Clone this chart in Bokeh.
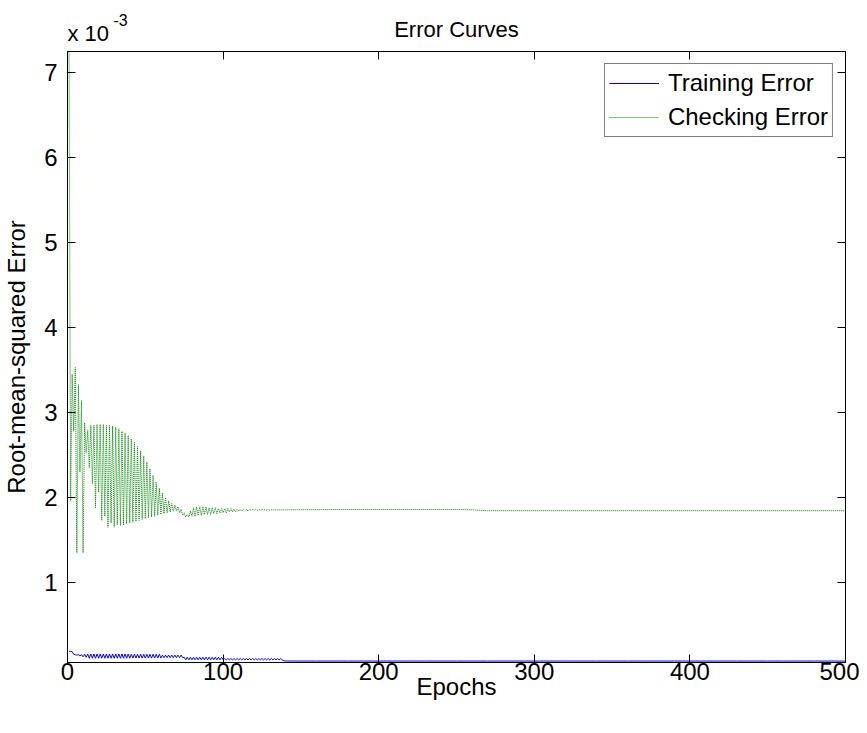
from bokeh.plotting import figure
from bokeh.models import Range1d, LinearAxis, FixedTicker, Legend, LegendItem, Title
from bokeh.embed import file_html
from bokeh.resources import INLINE

# ---------------- data (values in units of 1e-3) ----------------
epochs_dense = list(range(1, 141))
epochs_tail = list(range(150, 501, 10))

checking_dense = [
    7.25, 1.96, 3.45, 2.78, 3.53, 1.35, 3.33, 2.30, 3.14, 1.35,
    2.88, 2.53, 2.79, 2.35, 2.85, 2.16, 2.85, 1.88, 2.86, 2.06,
    2.86, 1.73, 2.86, 1.78, 2.85, 1.65, 2.85, 1.70, 2.84, 1.65,
    2.83, 1.68, 2.81, 1.67, 2.78, 1.68, 2.76, 1.69, 2.73, 1.70,
    2.69, 1.71, 2.65, 1.72, 2.60, 1.73, 2.55, 1.74, 2.49, 1.75,
    2.42, 1.76, 2.34, 1.77, 2.26, 1.78, 2.18, 1.79, 2.11, 1.80,
    2.05, 1.81, 2.00, 1.82, 1.96, 1.83, 1.93, 1.84, 1.91, 1.84,
    1.89, 1.82, 1.86, 1.79, 1.82, 1.77, 1.80, 1.77, 1.84, 1.78,
    1.88, 1.78, 1.89, 1.79, 1.89, 1.79, 1.89, 1.80, 1.89, 1.80,
    1.88, 1.80, 1.88, 1.81, 1.88, 1.81, 1.87, 1.82, 1.87, 1.82,
    1.87, 1.82, 1.87, 1.83, 1.87, 1.83, 1.86, 1.83, 1.86, 1.84,
    1.86, 1.84, 1.86, 1.84, 1.86, 1.84, 1.86, 1.85, 1.86, 1.85,
    1.86, 1.85, 1.86, 1.85, 1.86, 1.85, 1.86, 1.85, 1.86, 1.85,
    1.855, 1.855, 1.855, 1.855, 1.855, 1.855, 1.855, 1.855, 1.855, 1.855,
]
checking_tail = [
    1.856, 1.857, 1.858, 1.859, 1.860, 1.860, 1.860, 1.860, 1.860, 1.860,
    1.860, 1.855, 1.845, 1.845, 1.845, 1.845, 1.845, 1.845, 1.845, 1.845,
    1.845, 1.845, 1.845, 1.845, 1.845, 1.845, 1.845, 1.845, 1.845, 1.845,
    1.845, 1.845, 1.845, 1.845, 1.845, 1.845,
]

training_dense = [
    0.190, 0.190, 0.185, 0.155, 0.150, 0.145, 0.150, 0.135, 0.150, 0.125,
    0.155, 0.120, 0.158, 0.108, 0.158, 0.108, 0.158, 0.108, 0.158, 0.108,
    0.158, 0.108, 0.158, 0.108, 0.158, 0.108, 0.158, 0.108, 0.158, 0.108,
    0.158, 0.108, 0.158, 0.108, 0.158, 0.108, 0.158, 0.108, 0.158, 0.108,
    0.155, 0.110, 0.155, 0.110, 0.155, 0.110, 0.155, 0.110, 0.155, 0.110,
    0.155, 0.110, 0.155, 0.110, 0.155, 0.110, 0.155, 0.110, 0.155, 0.110,
    0.145, 0.115, 0.145, 0.115, 0.145, 0.115, 0.145, 0.115, 0.145, 0.115,
    0.145, 0.115, 0.145, 0.115, 0.120, 0.090, 0.120, 0.090, 0.120, 0.090,
    0.120, 0.090, 0.120, 0.090, 0.120, 0.090, 0.120, 0.090, 0.120, 0.090,
    0.120, 0.090, 0.120, 0.090, 0.120, 0.090, 0.120, 0.090, 0.120, 0.090,
    0.105, 0.088, 0.105, 0.088, 0.105, 0.088, 0.105, 0.088, 0.105, 0.088,
    0.105, 0.088, 0.105, 0.088, 0.105, 0.088, 0.105, 0.088, 0.105, 0.088,
    0.105, 0.088, 0.105, 0.088, 0.105, 0.088, 0.105, 0.088, 0.105, 0.088,
    0.105, 0.088, 0.105, 0.088, 0.105, 0.088, 0.105, 0.088, 0.080, 0.076,
]
training_tail = [0.075] * len(epochs_tail)

x_ticks = [0, 100, 200, 300, 400, 500]
y_ticks = [1, 2, 3, 4, 5, 6, 7]

epochs = epochs_dense + epochs_tail
checking = checking_dense + checking_tail
training = training_dense + training_tail

FONT = "Liberation Sans"

p = figure(width=859, height=717, output_backend="svg", toolbar_location=None,
           x_range=Range1d(0, 500), y_range=Range1d(0.058, 7.25),
           min_border_left=60, min_border_right=14, min_border_top=51,
           min_border_bottom=55, title=None)
p.grid.visible = False
p.outline_line_color = "black"
p.outline_line_width = 1
p.background_fill_color = "white"
p.border_fill_color = "white"

for ax in (p.xaxis[0], p.yaxis[0]):
    ax.major_tick_in = 8
    ax.major_tick_out = 0
    ax.minor_tick_in = 0
    ax.minor_tick_out = 0
    ax.axis_line_color = "black"
    ax.major_tick_line_color = "black"
    ax.major_label_text_font = FONT
    ax.major_label_text_font_size = "24px"
    ax.major_label_text_color = "black"
    ax.axis_label_text_font = FONT
    ax.axis_label_text_font_size = "24px"
    ax.axis_label_text_font_style = "normal"
    ax.axis_label_text_color = "black"

p.xaxis[0].ticker = FixedTicker(ticks=x_ticks)
p.xaxis[0].major_label_standoff = 0
p.xaxis[0].axis_label = "Epochs"
p.xaxis[0].axis_label_standoff = -10
p.yaxis[0].ticker = FixedTicker(ticks=y_ticks)
p.yaxis[0].major_label_standoff = 10
p.yaxis[0].axis_label = "Root-mean-squared Error"
p.yaxis[0].axis_label_standoff = 11

right = LinearAxis(ticker=FixedTicker(ticks=y_ticks),
                   major_label_overrides={t: "" for t in y_ticks},
                   major_label_text_font_size="1px",
                   major_tick_in=8, major_tick_out=0, minor_tick_in=0, minor_tick_out=0,
                   axis_line_color="black", major_label_standoff=0, axis_label_standoff=0)
p.add_layout(right, "right")
top = LinearAxis(ticker=FixedTicker(ticks=x_ticks),
                 major_label_overrides={t: "" for t in x_ticks},
                 major_label_text_font_size="1px",
                 major_tick_in=8, major_tick_out=0, minor_tick_in=0, minor_tick_out=0,
                 axis_line_color="black", major_label_standoff=0, axis_label_standoff=0)
p.add_layout(top, "above")

# titles stacked above the frame: multiplier "x 10", superscript "-3", main title
p.add_layout(Title(text="x 10", align="left", offset=0, text_font=FONT,
                   text_font_size="22px", text_font_style="normal",
                   text_color="black", standoff=11), "above")
p.add_layout(Title(text="-3", align="left", offset=46, text_font=FONT,
                   text_font_size="16px", text_font_style="normal",
                   text_color="black", standoff=-24), "above")
p.add_layout(Title(text="Error Curves", align="center", text_font=FONT,
                   text_font_size="22px", text_font_style="normal",
                   text_color="black", standoff=-57), "above")

r_train = p.line(epochs, training, line_color="#0000ff", line_width=1)
r_check = p.line(epochs, checking, line_color="#008000", line_width=1, line_dash="1 1")

legend = Legend(items=[LegendItem(label="Training Error", renderers=[r_train]),
                       LegendItem(label="Checking Error", renderers=[r_check])],
                location="top_right")
legend.margin = 12
legend.padding = 4
legend.spacing = 4
legend.label_height = 30
legend.glyph_height = 30
legend.glyph_width = 50
legend.label_standoff = 9
legend.border_line_color = "black"
legend.border_line_width = 1
legend.background_fill_alpha = 1
legend.label_text_font = FONT
legend.label_text_font_size = "24px"
legend.label_text_color = "black"
p.add_layout(legend)

open("out.html", "w").write(file_html(p, INLINE))
